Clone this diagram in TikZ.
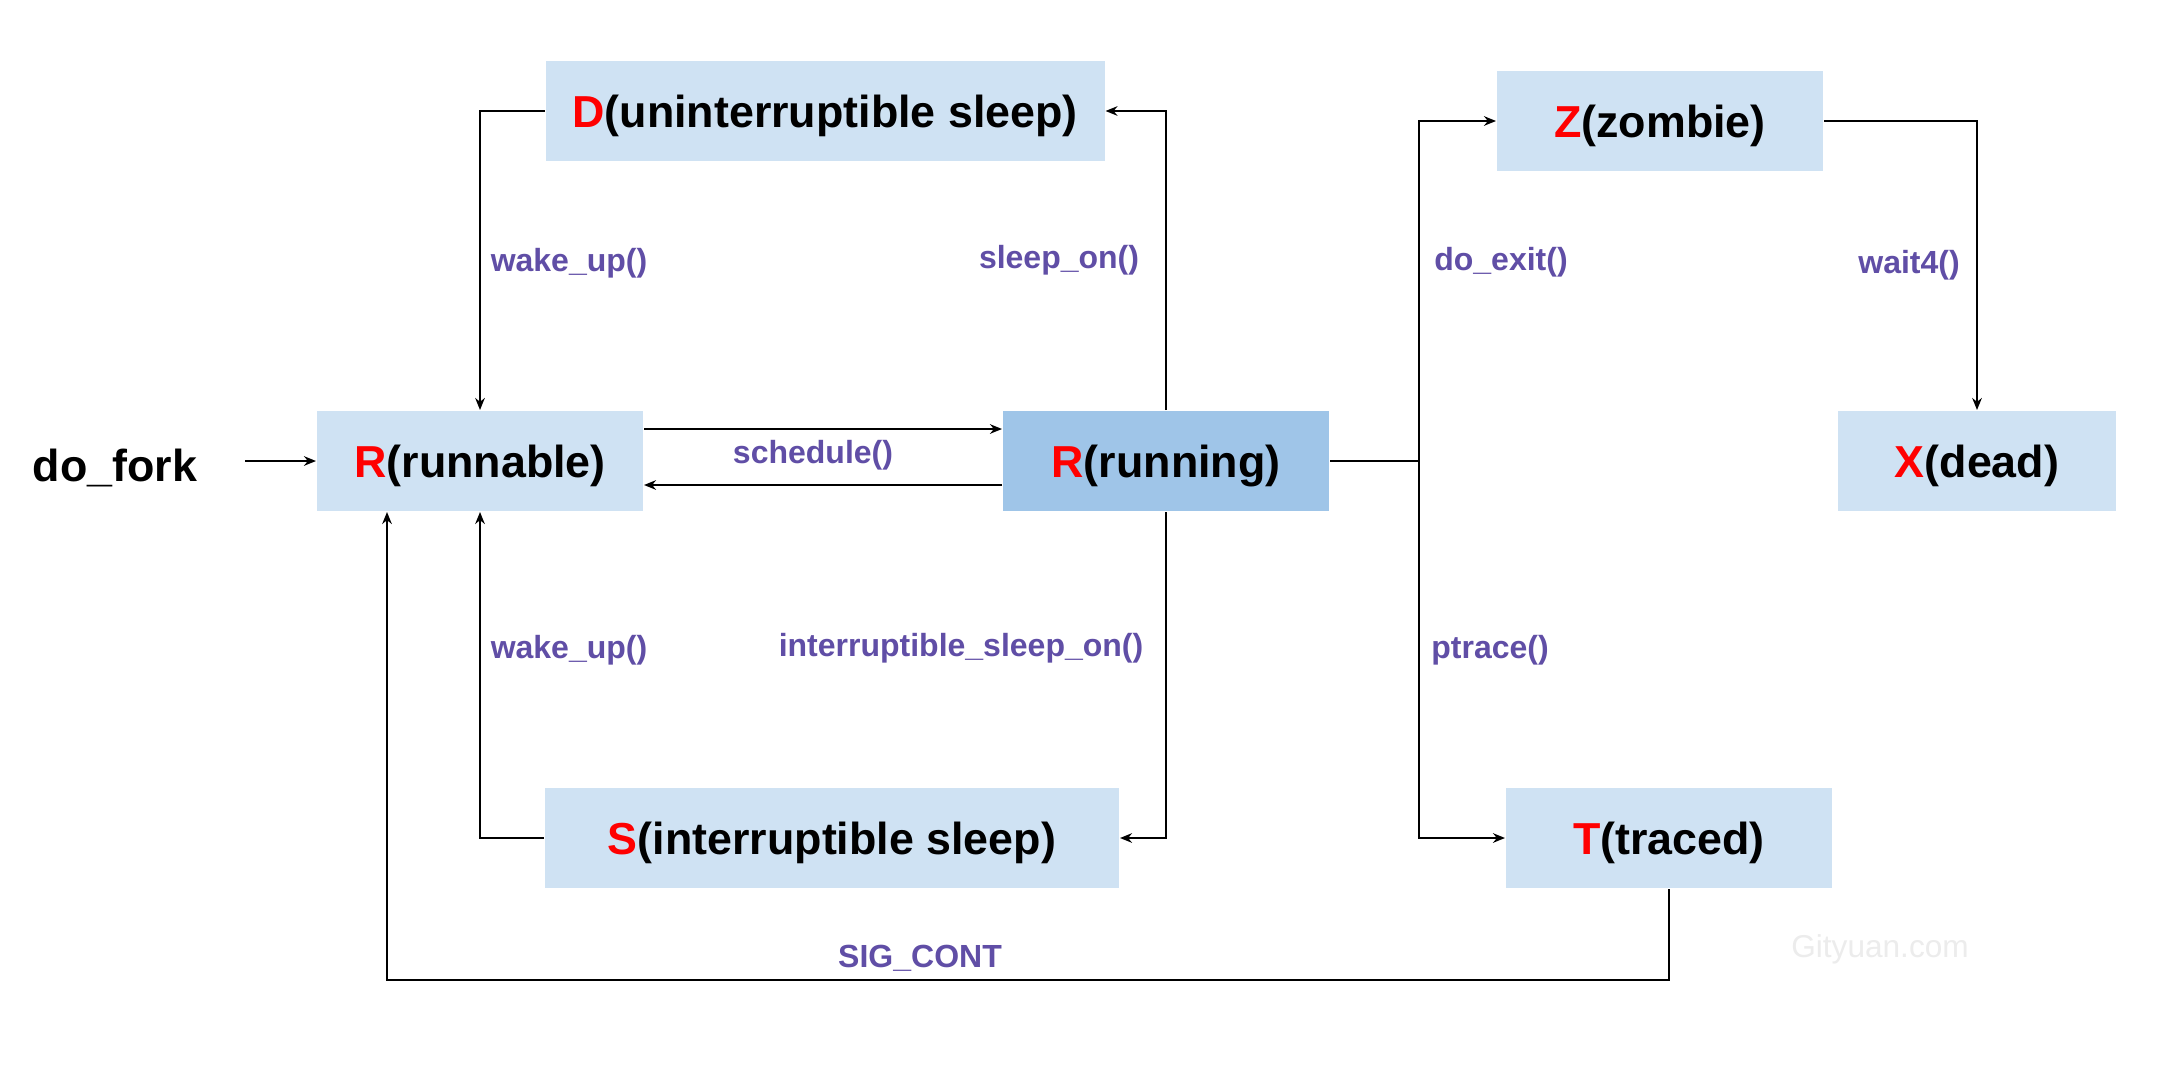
\documentclass[tikz,border=0pt]{standalone}
\usepackage{fontspec}
\setmainfont{Liberation Sans}
\usetikzlibrary{arrows.meta}

\definecolor{boxblue}{RGB}{207,226,243}
\definecolor{runblue}{RGB}{159,197,232}
\definecolor{funcpurple}{RGB}{96,78,166}
\definecolor{markgray}{RGB}{236,236,236}
\newcommand{\stname}[2]{{\color{red}#1}(#2)}

\begin{document}
\begin{tikzpicture}[
    x=0.25pt,y=0.25pt,
    yscale=-1,xscale=1,
    font = \bfseries\fontsize{11.2}{13}\selectfont,
    every path/.append style ={line width = 0.5pt,},
    stbox/.style = {fill=boxblue, minimum height=25pt, inner sep=0pt, text depth=0pt},
    func/.style = {text=funcpurple, font=\bfseries\fontsize{8}{10}\selectfont},
    arr/.style = {-{Stealth[length=3pt,width=2.4pt]}},
]
    \fill[white] (0,0) rectangle (2160,1080);

    % 状态
    \node[stbox, minimum width=139.75pt] (D) at (825,111) {\stname{D}{uninterruptible sleep}};
    \node[stbox, minimum width=81.5pt] (run) at (480,461) {\stname{R}{runnable}};
    \node[stbox, minimum width=81.5pt, fill=runblue] (running) at (1166,461) {\stname{R}{running}};
    \node[stbox, minimum width=81.5pt] (Z) at (1660,121) {\stname{Z}{zombie}};
    \node[stbox, minimum width=69.5pt] (X) at (1977,461) {\stname{X}{dead}};
    \node[stbox, minimum width=143.5pt] (S) at (832,838) {\stname{S}{interruptible sleep}};
    \node[stbox, minimum width=81.5pt] (T) at (1669,838) {\stname{T}{traced}};
    \node (dofork) at (115,468) {do\_fork};

    % 箭头
    \coordinate (forkin) at (245,461);
    \draw[arr] (forkin) -- (run.west);
    \draw[arr] (D.west) -| (run.north);
    \draw[arr] (running.north) |- (D.east);
    \draw[arr] ([yshift=-8pt]run.east) -- ([yshift=-8pt]running.west);
    \draw[arr] ([yshift=6pt]running.west) -- ([yshift=6pt]run.east);
    \draw[arr] (running.south) |- (S.east);
    \draw[arr] (S.west) -| (run.south);
    \coordinate (split) at (1419,461);
    \draw (running.east) -- (split);
    \draw[arr] (split) |- (Z.west);
    \draw[arr] (split) |- (T.west);
    \draw[arr] (Z.east) -| (X.north);
    \coordinate (sigturn) at (387,980);
    \draw[arr] (T.south) |- (sigturn) -- (sigturn |- run.south);

    % 文本
    \node[func] (wake1) at (569,263) {wake\_up()};
    \node[func] (sleepon) at (1059,260) {sleep\_on()};
    \node[func] (sched) at (813,455) {schedule()};
    \node[func] (wake2) at (569,650) {wake\_up()};
    \node[func] (isleepon) at (961,648) {interruptible\_sleep\_on()};
    \node[func] (doexit) at (1501,262) {do\_exit()};
    \node[func] (ptrace) at (1490,650) {ptrace()};
    \node[func] (wait) at (1909,265) {wait4()};
    \node[func] (sigcont) at (920,958) {SIG\_CONT};
    \node[text=markgray, font=\fontsize{7.9}{9}\selectfont] (mark) at (1880,949) {Gityuan.com};
\end{tikzpicture}
\end{document}
